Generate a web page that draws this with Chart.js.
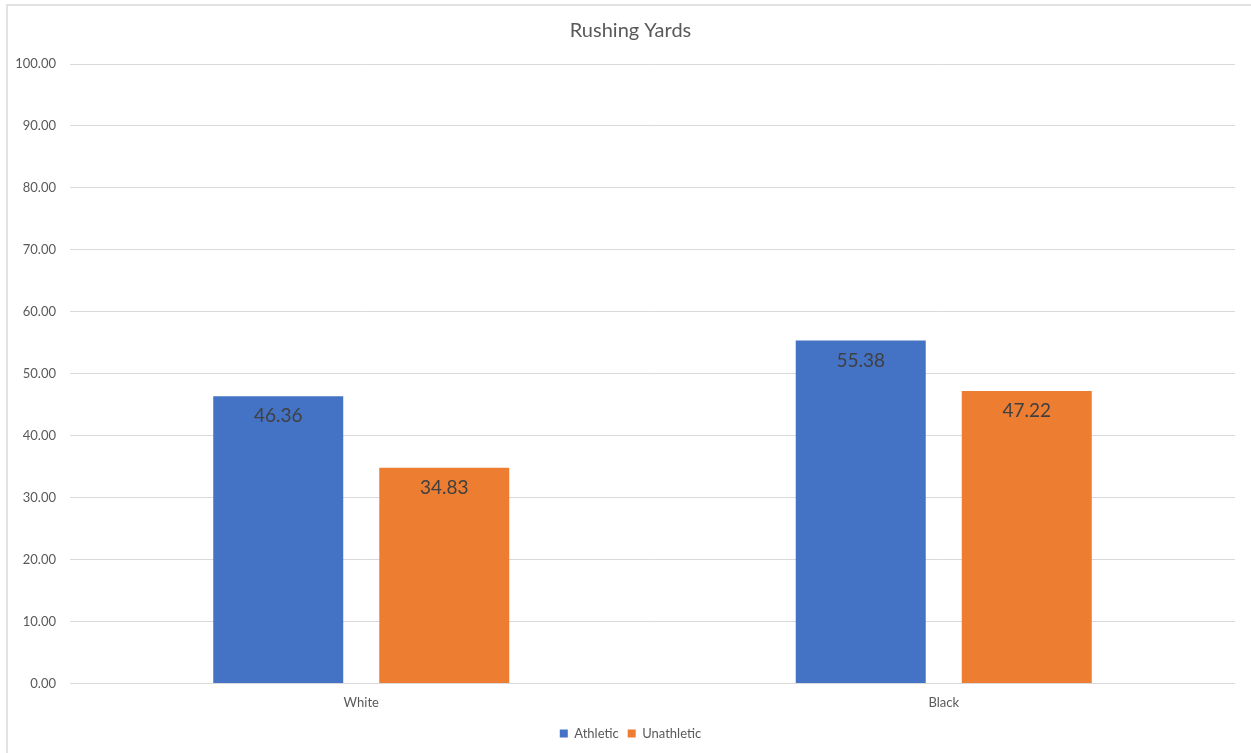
<!DOCTYPE html>
<html>
<head>
<meta charset="utf-8">
<script src="https://cdn.jsdelivr.net/npm/chart.js@4.4.0/dist/chart.umd.min.js"></script>
<style>
  html, body { margin: 0; padding: 0; background: #fff; }
  #wrap { width: 1251px; height: 753px; position: relative; }
</style>
</head>
<body>
<div id="wrap"><canvas id="rushing-canvas" width="1251" height="753"></canvas></div>
<script>
var categories = ["White", "Black"];
var athletic = [46.36, 55.38];
var unathletic = [34.83, 47.22];
var yTicks = [0, 10, 20, 30, 40, 50, 60, 70, 80, 90, 100];

var fontFamily = "Lato, 'Open Sans', sans-serif";
Chart.defaults.font.family = fontFamily;
Chart.defaults.color = "#595959";

// white background + the thin frame that excel draws round the chart
var frame = {
    id: "frame",
    beforeDraw: function(chart) {
        var c = chart.ctx;
        c.save();
        c.fillStyle = "#fff";
        c.fillRect(0, 0, chart.width, chart.height);
        c.strokeStyle = "#d9d9d9";
        c.lineWidth = 1.5;
        c.strokeRect(7, 5, chart.width + 10, chart.height + 10);
        c.restore();
    }
};

// value labels sitting just inside the top of each bar
var barLabels = {
    id: "barLabels",
    afterDatasetsDraw: function(chart) {
        var c = chart.ctx;
        c.save();
        c.font = "19px " + fontFamily;
        c.fillStyle = "#404040";
        c.textAlign = "center";
        c.textBaseline = "middle";
        chart.data.datasets.forEach(function(ds, i) {
            chart.getDatasetMeta(i).data.forEach(function(bar, j) {
                c.fillText(ds.data[j].toFixed(2), bar.x, bar.y + 20);
            });
        });
        c.restore();
    }
};

var ctx = document.getElementById("rushing-canvas");
var chart = new Chart(ctx, {
    type: "bar",
    data: {
        labels: categories,
        datasets: [
            { label: "Athletic", data: athletic, backgroundColor: "#4472C4", categoryPercentage: 0.57, barPercentage: 0.783 },
            { label: "Unathletic", data: unathletic, backgroundColor: "#ED7D31", categoryPercentage: 0.57, barPercentage: 0.783 }
        ]
    },
    options: {
        responsive: false,
        animation: false,
        layout: { padding: { left: 14, right: 4, top: 0, bottom: 3 } },
        plugins: {
            title: {
                display: true,
                text: "Rushing Yards",
                color: "#595959",
                font: { size: 20, weight: "normal" },
                padding: { top: 19, bottom: 21 }
            },
            legend: {
                position: "bottom",
                labels: {
                    boxWidth: 8,
                    boxHeight: 8,
                    color: "#595959",
                    font: { size: 13 },
                    padding: 9
                }
            },
            tooltip: { enabled: false }
        },
        scales: {
            x: {
                grid: { display: false },
                border: { display: false },
                afterFit: function(scale) { scale.height += 3; },
                ticks: { color: "#595959", font: { size: 13 }, padding: 4 }
            },
            y: {
                min: 0,
                max: 100,
                afterFit: function(scale) { scale.width = 56; },
                afterBuildTicks: function(scale) {
                    scale.ticks = yTicks.map(function(v) { return { value: v }; });
                },
                grid: { color: "#d9d9d9", lineWidth: 1, drawTicks: false },
                border: { display: false },
                ticks: {
                    color: "#595959",
                    font: { size: 13 },
                    padding: 14,
                    callback: function(v) { return Number(v).toFixed(2); }
                }
            },
            // empty right-hand gutter so the title centres like the original
            yRight: {
                position: "right",
                min: 0,
                max: 100,
                grid: { display: false },
                border: { display: false },
                ticks: { display: false },
                afterFit: function(scale) { scale.width = 12; }
            }
        }
    },
    plugins: [frame, barLabels]
});
</script>
</body>
</html>
